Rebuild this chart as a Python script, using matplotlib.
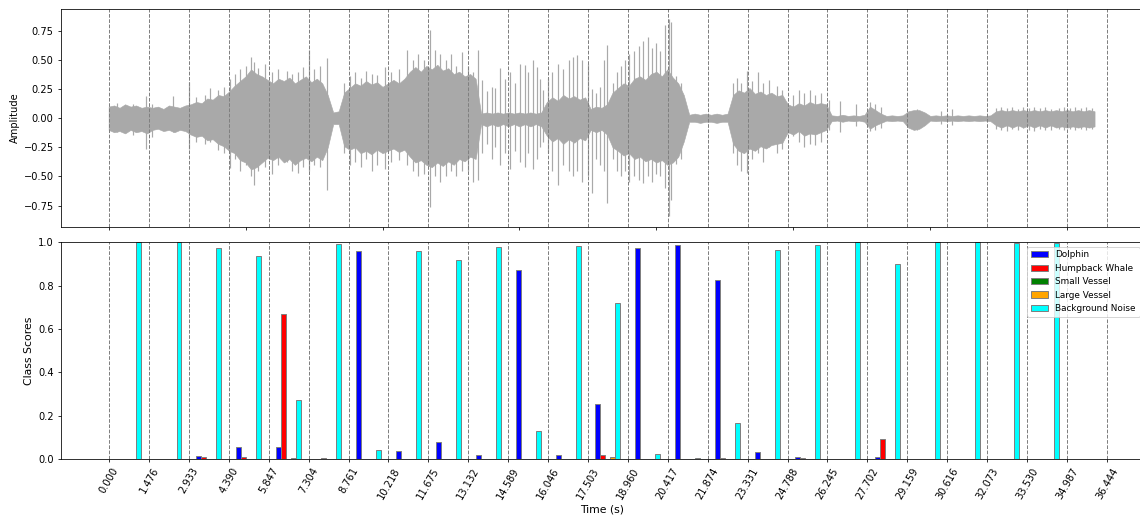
import matplotlib
matplotlib.use("Agg")
import matplotlib.pyplot as plt
import numpy as np
from matplotlib.ticker import MultipleLocator

# window boundaries (s) used for the classifier
window_starts = [0.000, 1.476, 2.933, 4.390, 5.847, 7.304, 8.761, 10.218, 11.675,
                 13.132, 14.589, 16.046, 17.503, 18.960, 20.417, 21.874, 23.331,
                 24.788, 26.245, 27.702, 29.159, 30.616, 32.073, 33.530, 34.987, 36.444]
window_dur = 1.457

classes = ["Dolphin", "Humpback Whale", "Small Vessel", "Large Vessel", "Background Noise"]
class_colors = ["blue", "red", "green", "orange", "cyan"]

# per-window class scores (24 scored windows)
dolphin = [0.0, 0.0, 0.015, 0.057, 0.057, 0.0, 0.962, 0.037, 0.080, 0.020, 0.872, 0.017,
           0.252, 0.975, 0.988, 0.826, 0.034, 0.008, 0.0, 0.009, 0.001, 0.0, 0.0, 0.0]
humpback = [0.0, 0.0, 0.009, 0.008, 0.668, 0.006, 0.0, 0.0, 0.0, 0.0, 0.0, 0.0,
            0.017, 0.0, 0.0, 0.006, 0.0, 0.005, 0.0, 0.091, 0.001, 0.0, 0.0, 0.0]
small_vessel = [0.0, 0.0, 0.001, 0.0, 0.0, 0.002, 0.0, 0.0, 0.0, 0.0, 0.0, 0.0,
                0.0, 0.0, 0.0, 0.0, 0.0, 0.0, 0.0, 0.0, 0.001, 0.0, 0.0, 0.0]
large_vessel = [0.0, 0.0, 0.0, 0.0, 0.006, 0.0, 0.0, 0.0, 0.0, 0.0, 0.0, 0.0,
                0.011, 0.0, 0.0, 0.0, 0.0, 0.0, 0.0, 0.0, 0.0, 0.0, 0.0, 0.0]
background = [1.0, 1.0, 0.975, 0.937, 0.271, 0.992, 0.042, 0.962, 0.920, 0.980, 0.128, 0.985,
              0.722, 0.023, 0.006, 0.165, 0.965, 0.986, 1.0, 0.898, 1.0, 1.0, 0.995, 0.995]

# waveform body: upper / lower amplitude every 0.2 s from 0 to 36 s
env_step = 0.2
env_hi = [0.10, 0.11, 0.09, 0.12, 0.10, 0.11, 0.09, 0.10,
          0.09, 0.10, 0.08, 0.11, 0.10, 0.09, 0.11,
          0.12, 0.14, 0.13, 0.17, 0.16, 0.20, 0.19, 0.23,
          0.28, 0.32, 0.36, 0.42, 0.38,
          0.36, 0.33, 0.30, 0.34, 0.32, 0.35, 0.30, 0.33, 0.36, 0.31, 0.34, 0.30,
          0.20, 0.05, 0.06,
          0.22, 0.26, 0.30, 0.28, 0.32, 0.29, 0.31, 0.27, 0.30, 0.33, 0.30, 0.34,
          0.40, 0.44, 0.40, 0.45, 0.42, 0.46, 0.41, 0.43, 0.38, 0.40, 0.36, 0.38, 0.34,
          0.04, 0.05, 0.04, 0.05, 0.04, 0.05, 0.04, 0.05, 0.04, 0.05, 0.04, 0.05,
          0.14, 0.18, 0.15, 0.20, 0.17, 0.19, 0.16, 0.18,
          0.08, 0.10, 0.09, 0.12,
          0.22, 0.26, 0.30, 0.28, 0.34, 0.36, 0.33, 0.38, 0.40, 0.36, 0.42, 0.35,
          0.30, 0.20,
          0.03, 0.04, 0.03, 0.04, 0.03, 0.04, 0.03, 0.04,
          0.20, 0.24, 0.22, 0.26, 0.21, 0.23, 0.20, 0.22, 0.19, 0.20,
          0.12, 0.10, 0.13, 0.11, 0.14, 0.12, 0.13, 0.12,
          0.025, 0.02, 0.03, 0.02, 0.025, 0.02, 0.03,
          0.10, 0.07, 0.04,
          0.02, 0.025, 0.02, 0.025,
          0.06, 0.07, 0.07, 0.05,
          0.02, 0.025, 0.02, 0.025, 0.02, 0.025, 0.02, 0.025, 0.02, 0.025, 0.02, 0.025,
          0.06, 0.07, 0.06, 0.07, 0.06, 0.07, 0.06, 0.07, 0.06, 0.07, 0.06, 0.07,
          0.06, 0.07, 0.06, 0.07, 0.06, 0.07, 0.06]
env_lo = [-0.10, -0.12, -0.11, -0.13, -0.10, -0.12, -0.11, -0.13,
          -0.10, -0.09, -0.11, -0.10, -0.12, -0.10, -0.11,
          -0.14, -0.16, -0.15, -0.19, -0.18, -0.22, -0.24, -0.28,
          -0.30, -0.36, -0.38, -0.44, -0.42,
          -0.38, -0.34, -0.36, -0.33, -0.38, -0.35, -0.40, -0.36, -0.34, -0.37, -0.33, -0.36,
          -0.25, -0.05, -0.05,
          -0.24, -0.27, -0.25, -0.30, -0.28, -0.31, -0.27, -0.30, -0.28, -0.26, -0.29, -0.27,
          -0.33, -0.38, -0.36, -0.40, -0.42, -0.38, -0.41, -0.37, -0.40, -0.35, -0.37, -0.33,
          -0.35,
          -0.05, -0.07, -0.05, -0.07, -0.05, -0.07, -0.05, -0.07, -0.05, -0.07, -0.05, -0.07,
          -0.15, -0.20, -0.17, -0.22, -0.18, -0.21, -0.17, -0.19,
          -0.10, -0.12, -0.10, -0.14,
          -0.25, -0.28, -0.32, -0.30, -0.35, -0.33, -0.37, -0.35, -0.38, -0.36, -0.40, -0.38,
          -0.33, -0.20,
          -0.03, -0.03, -0.04, -0.03, -0.03, -0.04, -0.03, -0.03,
          -0.22, -0.28, -0.30, -0.26, -0.28, -0.24, -0.26, -0.23, -0.22, -0.21,
          -0.12, -0.14, -0.11, -0.15, -0.13, -0.14, -0.12, -0.10,
          -0.025, -0.02, -0.03, -0.02, -0.025, -0.02, -0.03,
          -0.09, -0.06, -0.04,
          -0.02, -0.025, -0.02, -0.025,
          -0.08, -0.10, -0.09, -0.06,
          -0.02, -0.025, -0.02, -0.025, -0.02, -0.025, -0.02, -0.025, -0.02, -0.025, -0.02,
          -0.025,
          -0.06, -0.08, -0.06, -0.08, -0.06, -0.08, -0.06, -0.08, -0.06, -0.08, -0.06, -0.08,
          -0.07, -0.08, -0.07, -0.08, -0.07, -0.08, -0.07]

# individual peaks on top of the body (s, max, min)
spk_t = [0.3, 0.9, 1.38, 1.6, 2.36, 2.93, 3.2, 3.5, 3.7, 4.0, 4.2, 4.43, 4.6, 4.8, 5.0, 5.2,
         5.3, 5.45, 5.7, 5.95, 6.2, 6.5, 6.7, 6.9, 7.1, 7.3, 7.5, 7.7, 7.96, 8.6, 8.8, 9.0,
         9.2, 9.4, 9.6, 9.8, 10.1, 10.3, 10.6, 10.88, 11.1, 11.3, 11.5, 11.73, 11.9, 12.1,
         12.3, 12.5, 12.7, 12.9, 13.13, 13.3, 13.5, 13.62, 13.8, 13.99, 14.11, 14.29, 14.47,
         14.65, 14.84, 15.02, 15.2, 15.32, 15.51, 15.63, 15.75, 15.87, 16.05, 16.2, 16.4,
         16.6, 16.8, 16.95, 17.1, 17.3, 17.5, 17.65, 17.8, 17.95, 18.1, 18.2, 18.4, 18.55,
         18.7, 18.85, 19.0, 19.2, 19.35, 19.5, 19.7, 19.85, 20.0, 20.15, 20.3, 20.45, 20.55,
         20.7, 20.9, 22.8, 22.95, 23.1, 23.3, 23.5, 23.7, 23.9, 24.1, 24.4, 24.6, 25.0, 25.2,
         25.4, 25.6, 25.8, 26.0, 26.3, 26.7, 27.3, 27.8, 28.0, 28.2, 29.5, 30.4, 30.8, 32.4,
         32.6, 32.8, 33.0, 33.2, 33.4, 33.6, 33.8, 34.0, 34.2, 34.4, 34.7, 34.9, 35.1, 35.3,
         35.5, 35.7, 35.9]
spk_hi = [0.13, 0.12, 0.19, 0.12, 0.19, 0.31, 0.18, 0.20, 0.26, 0.24, 0.27, 0.34, 0.38, 0.42,
          0.45, 0.53, 0.48, 0.43, 0.47, 0.40, 0.42, 0.41, 0.38, 0.40, 0.44, 0.59, 0.42, 0.45,
          0.52, 0.30, 0.36, 0.40, 0.35, 0.41, 0.38, 0.37, 0.44, 0.40, 0.42, 0.59, 0.50, 0.55,
          0.50, 0.76, 0.59, 0.55, 0.50, 0.55, 0.45, 0.57, 0.45, 0.40, 0.59, 0.33, 0.23, 0.27,
          0.26, 0.43, 0.34, 0.40, 0.30, 0.47, 0.46, 0.40, 0.50, 0.44, 0.34, 0.24, 0.35, 0.40,
          0.47, 0.42, 0.50, 0.53, 0.54, 0.50, 0.47, 0.25, 0.22, 0.27, 0.50, 0.63, 0.30, 0.40,
          0.45, 0.50, 0.55, 0.58, 0.62, 0.66, 0.70, 0.60, 0.65, 0.58, 0.80, 0.85, 0.83, 0.36,
          0.30, 0.30, 0.35, 0.30, 0.41, 0.32, 0.40, 0.30, 0.33, 0.28, 0.24, 0.20, 0.24, 0.22,
          0.24, 0.20, 0.22, 0.16, 0.15, 0.12, 0.14, 0.12, 0.10, 0.08, 0.06, 0.08, 0.09, 0.10,
          0.09, 0.10, 0.08, 0.10, 0.09, 0.10, 0.09, 0.10, 0.08, 0.09, 0.10, 0.09, 0.10, 0.09,
          0.10, 0.09]
spk_lo = [-0.12, -0.14, -0.26, -0.16, -0.12, -0.26, -0.20, -0.22, -0.20, -0.27, -0.30, -0.43,
          -0.35, -0.45, -0.40, -0.50, -0.57, -0.45, -0.42, -0.48, -0.40, -0.38, -0.45, -0.47,
          -0.42, -0.45, -0.40, -0.42, -0.62, -0.30, -0.40, -0.38, -0.42, -0.35, -0.45, -0.40,
          -0.44, -0.38, -0.36, -0.40, -0.45, -0.50, -0.48, -0.76, -0.50, -0.55, -0.50, -0.45,
          -0.50, -0.45, -0.45, -0.55, -0.53, -0.30, -0.22, -0.35, -0.25, -0.40, -0.30, -0.44,
          -0.28, -0.38, -0.42, -0.30, -0.44, -0.35, -0.25, -0.20, -0.30, -0.45, -0.57, -0.40,
          -0.45, -0.50, -0.45, -0.55, -0.50, -0.64, -0.35, -0.40, -0.45, -0.73, -0.35, -0.45,
          -0.50, -0.45, -0.55, -0.50, -0.53, -0.56, -0.50, -0.55, -0.48, -0.50, -0.60, -0.84,
          -0.70, -0.39, -0.35, -0.30, -0.40, -0.45, -0.47, -0.35, -0.30, -0.38, -0.25, -0.30,
          -0.26, -0.15, -0.20, -0.25, -0.22, -0.23, -0.20, -0.10, -0.12, -0.07, -0.11, -0.10,
          -0.08, -0.10, -0.05, -0.06, -0.09, -0.10, -0.11, -0.09, -0.10, -0.08, -0.10, -0.11,
          -0.09, -0.10, -0.10, -0.09, -0.10, -0.09, -0.10, -0.09, -0.10, -0.09]

DPI = 71.25
fig = plt.figure(figsize=(1140 / DPI, 520 / DPI), dpi=DPI)
ax1 = fig.add_axes([0.0532, 0.5644, 0.9503, 0.4177])
ax2 = fig.add_axes([0.0532, 0.1173, 0.9503, 0.4167])
xlim = (-1.753, 37.805)

# waveform
wave_col = "darkgray"
env_t = np.arange(len(env_hi)) * env_step
ax1.fill_between(env_t, env_lo, env_hi, color=wave_col, lw=0.6, edgecolor=wave_col)
ax1.vlines(spk_t, spk_lo, spk_hi, color=wave_col, lw=1.2)
for t in window_starts:
    ax1.axvline(t, color="gray", ls="--", lw=1)
ax1.set_xlim(xlim)
ax1.set_ylim(-0.93, 0.936)
ax1.xaxis.set_major_locator(MultipleLocator(5))
ax1.tick_params(labelbottom=False)
ax1.set_ylabel("Amplitude")

# class scores per window
scores = [dolphin, humpback, small_vessel, large_vessel, background]
bar_w = window_dur / 8
centers = np.array(window_starts[:len(background)]) + window_dur / 2
for k, (name, col, vals) in enumerate(zip(classes, class_colors, scores)):
    ax2.bar(centers + (k - 2) * bar_w, vals, width=bar_w, color=col,
            edgecolor="gray", lw=1, label=name)
for t in window_starts:
    ax2.axvline(t, color="gray", ls="--", lw=1)
ax2.set_xlim(xlim)
ax2.set_ylim(0, 1.0)
ax2.set_xticks(window_starts)
ax2.set_xticklabels([f"{t:.3f}" for t in window_starts], rotation=60)
ax2.set_xlabel("Time (s)", fontsize=11)
ax2.set_ylabel("Class Scores", fontsize=11)
ax2.legend(loc="upper right", fontsize=9)

fig.savefig("out.png", dpi=DPI)
